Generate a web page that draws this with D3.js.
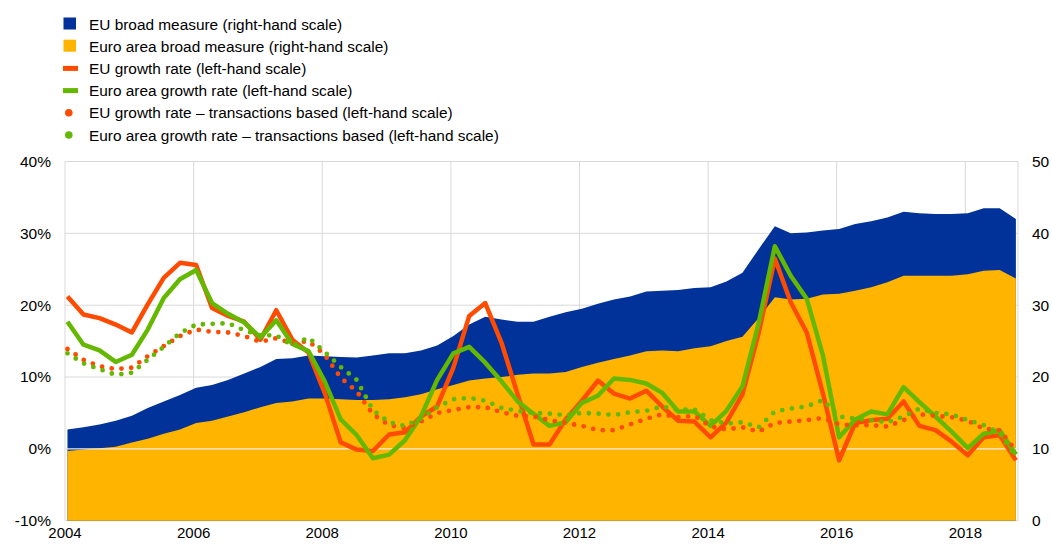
<!DOCTYPE html>
<html>
<head>
<meta charset="utf-8">
<script src="https://cdn.jsdelivr.net/npm/d3@7/dist/d3.min.js"></script>
<style>
  html, body { margin: 0; padding: 0; background: #ffffff; }
  svg { display: block; font-family: "Liberation Sans", Arial, sans-serif; }
</style>
</head>
<body>
<svg id="chart" width="1052" height="547"></svg>
<script>
// Quarterly observations, 2004 Q1 – 2018 Q4
const startYear = 2004;
const quarterCount = 60;
const quarters = d3.range(quarterCount).map(i => ({ year: startYear + Math.floor(i / 4), q: i % 4 + 1 }));

// EUR trillions (right-hand scale)
const euBroad = [12.7, 13.0, 13.4, 13.9, 14.6, 15.7, 16.6, 17.5, 18.5, 18.9, 19.6, 20.5, 21.4, 22.5, 22.6, 23.0,
  22.9, 22.8, 22.7, 23.0, 23.3, 23.3, 23.7, 24.4, 25.7, 27.3, 28.4, 28.0, 27.7, 27.7, 28.4, 29.0,
  29.5, 30.2, 30.8, 31.2, 31.9, 32.0, 32.1, 32.4, 32.5, 33.3, 34.5, 37.8, 41.0, 40.0, 40.1, 40.4,
  40.6, 41.3, 41.7, 42.2, 43.0, 42.8, 42.7, 42.7, 42.8, 43.5, 43.5, 42.0];
const euroAreaBroad = [9.7, 9.9, 10.1, 10.3, 10.9, 11.4, 12.1, 12.7, 13.6, 13.9, 14.5, 15.1, 15.8, 16.4, 16.6, 17.0,
  17.0, 16.9, 16.8, 16.8, 16.9, 17.2, 17.6, 18.3, 18.9, 19.5, 19.8, 20.0, 20.3, 20.5, 20.5, 20.7,
  21.4, 22.0, 22.5, 23.0, 23.6, 23.7, 23.6, 24.0, 24.3, 25.0, 25.6, 28.2, 31.1, 30.8, 30.9, 31.5,
  31.6, 32.0, 32.5, 33.2, 34.1, 34.1, 34.1, 34.1, 34.3, 34.8, 34.9, 33.7];

// Annual growth rates, % (left-hand scale)
const euGrowth = [21.2, 18.7, 18.2, 17.3, 16.2, 20.1, 23.8, 25.9, 25.6, 19.6, 18.5, 17.7, 15.2, 19.3, 15.2, 13.4,
  7.8, 0.9, -0.1, -0.3, 2.0, 2.3, 4.5, 5.9, 11.3, 18.5, 20.3, 14.8, 7.6, 0.6, 0.6, 4.1,
  6.7, 9.5, 7.7, 7.0, 8.1, 5.9, 3.9, 3.8, 1.6, 3.7, 7.6, 16.1, 26.5, 20.4, 16.2, 7.7,
  -1.6, 3.6, 4.0, 4.2, 6.6, 3.2, 2.6, 1.0, -0.9, 1.6, 1.9, -1.6];
const euroAreaGrowth = [17.7, 14.5, 13.7, 12.1, 13.1, 16.6, 21.0, 23.6, 24.9, 20.3, 18.8, 17.6, 15.5, 17.9, 14.6, 13.6,
  9.4, 4.1, 1.9, -1.3, -0.8, 1.2, 4.5, 9.6, 13.3, 14.2, 12.0, 9.4, 6.6, 4.9, 3.2, 3.7,
  6.4, 7.4, 9.8, 9.6, 9.1, 7.8, 5.2, 5.2, 3.2, 5.3, 8.7, 17.5, 28.2, 24.1, 20.9, 13.0,
  1.6, 4.1, 5.2, 4.8, 8.6, 6.5, 4.5, 2.4, 0.1, 2.1, 2.6, -0.8];
const euGrowthTx = [13.9, 12.4, 11.5, 11.1, 11.3, 12.9, 14.3, 15.7, 16.6, 16.3, 16.2, 15.7, 14.9, 15.4, 14.7, 15.0,
  13.1, 9.9, 8.0, 4.8, 3.3, 2.9, 3.8, 5.0, 5.4, 5.8, 5.8, 5.1, 4.6, 4.5, 4.0, 3.6,
  3.2, 2.6, 2.6, 3.4, 4.2, 4.8, 4.4, 4.6, 3.1, 2.7, 3.0, 2.4, 3.6, 3.8, 4.0, 4.3,
  3.4, 3.3, 3.3, 3.1, 4.0, 4.8, 4.6, 4.4, 3.9, 2.8, 2.6, -0.2];
const euroAreaGrowthTx = [13.3, 11.9, 11.1, 10.3, 10.6, 12.4, 14.2, 16.1, 17.3, 17.4, 17.5, 16.5, 15.8, 15.8, 14.4, 15.5,
  13.5, 11.4, 9.6, 5.4, 3.7, 3.2, 4.2, 5.8, 6.9, 7.1, 6.7, 5.7, 5.3, 5.0, 4.9, 4.7,
  5.0, 4.9, 4.7, 5.1, 5.3, 5.9, 5.4, 5.5, 4.0, 3.5, 3.7, 3.0, 5.2, 5.6, 5.9, 6.8,
  4.5, 4.2, 4.0, 3.7, 4.5, 5.6, 5.0, 4.8, 4.0, 3.3, 2.2, -1.1];

// Axis ticks
const yearTicks = [2004, 2006, 2008, 2010, 2012, 2014, 2016, 2018];
const leftTicks = [-10, 0, 10, 20, 30, 40];
const rightTicks = [0, 10, 20, 30, 40, 50];

const legendItems = [
  { label: "EU broad measure (right-hand scale)", kind: "square", color: "#003299" },
  { label: "Euro area broad measure (right-hand scale)", kind: "square", color: "#FFB400" },
  { label: "EU growth rate (left-hand scale)", kind: "line", color: "#FF4B00" },
  { label: "Euro area growth rate (left-hand scale)", kind: "line", color: "#65B800" },
  { label: "EU growth rate \u2013 transactions based (left-hand scale)", kind: "dot", color: "#FF4B00" },
  { label: "Euro area growth rate \u2013 transactions based (left-hand scale)", kind: "dot", color: "#65B800" }
];

const svg = d3.select("#chart");
const plot = { left: 65, right: 1018, top: 161.5, bottom: 520.7 };

// observations are dated mid-month of each quarter's first month
const dateOf = i => new Date(quarters[i].year, (quarters[i].q - 1) * 3, 15);

const x = d3.scaleTime()
  .domain([new Date(2004, 0, 1), new Date(2018, 9, 27)])
  .range([plot.left, plot.right]);
const yL = d3.scaleLinear().domain([-10, 40]).range([plot.bottom, plot.top]);
const yR = d3.scaleLinear().domain([0, 50]).range([plot.bottom, plot.top]);

const gridColor = "#d9d9d9";

// gridlines
const grid = svg.append("g");
grid.selectAll("line.h").data(leftTicks).join("line")
  .attr("x1", plot.left).attr("x2", plot.right)
  .attr("y1", d => yL(d)).attr("y2", d => yL(d))
  .attr("stroke", gridColor).attr("stroke-width", 1);
grid.selectAll("line.v").data(yearTicks).join("line")
  .attr("x1", d => x(new Date(d, 0, 1))).attr("x2", d => x(new Date(d, 0, 1)))
  .attr("y1", plot.top).attr("y2", plot.bottom)
  .attr("stroke", gridColor).attr("stroke-width", 1);
grid.append("line")
  .attr("x1", plot.right).attr("x2", plot.right)
  .attr("y1", plot.top).attr("y2", plot.bottom)
  .attr("stroke", gridColor).attr("stroke-width", 1);

// stock areas (right-hand scale)
const area = vals => d3.area()
  .x((d, i) => x(dateOf(i)))
  .y0(yR(0))
  .y1(d => yR(d))(vals);

svg.append("path").attr("d", area(euBroad)).attr("fill", "#003299");
svg.append("path").attr("d", area(euroAreaBroad)).attr("fill", "#FFB400");

// zero line of the left-hand scale
svg.append("line")
  .attr("x1", plot.left).attr("x2", plot.right)
  .attr("y1", yL(0)).attr("y2", yL(0))
  .attr("stroke", "#ececec").attr("stroke-width", 1.2);

// growth rate lines (left-hand scale)
const line = d3.line().x((d, i) => x(dateOf(i))).y(d => yL(d));

svg.append("path").attr("d", line(euGrowth))
  .attr("fill", "none").attr("stroke", "#FF4B00").attr("stroke-width", 4.5)
  .attr("stroke-linejoin", "round");
svg.append("path").attr("d", line(euroAreaGrowth))
  .attr("fill", "none").attr("stroke", "#65B800").attr("stroke-width", 4.5)
  .attr("stroke-linejoin", "round");

const dotted = (vals, color) => svg.append("path").attr("d", line(vals))
  .attr("fill", "none").attr("stroke", color).attr("stroke-width", 4.8)
  .attr("stroke-linecap", "round").attr("stroke-dasharray", "0,9.8");

dotted(euGrowthTx, "#FF4B00");
dotted(euroAreaGrowthTx, "#65B800");

// axes
const axisG = svg.append("g").attr("fill", "#000");

axisG.selectAll("text.yl").data(leftTicks).join("text")
  .attr("font-size", 15.5)
  .attr("x", 51).attr("y", d => yL(d)).attr("dy", "0.35em")
  .attr("text-anchor", "end").text(d => d + "%");

axisG.selectAll("text.yr").data(rightTicks).join("text")
  .attr("font-size", 15.5)
  .attr("x", 1032).attr("y", d => yR(d)).attr("dy", "0.35em")
  .attr("text-anchor", "start").text(d => d);

axisG.selectAll("text.x").data(yearTicks).join("text")
  .attr("font-size", 15)
  .attr("x", d => x(new Date(d, 0, 1))).attr("y", 538)
  .attr("text-anchor", "middle").text(d => d);

// legend
const legend = svg.append("g").attr("font-size", 15.4);
const rowY = i => 24 + i * 22.2;
legendItems.forEach((item, i) => {
  const cy = rowY(i);
  if (item.kind === "square") {
    legend.append("rect").attr("x", 63.5).attr("y", cy - 6.5).attr("width", 12.5).attr("height", 12)
      .attr("fill", item.color);
  } else if (item.kind === "line") {
    legend.append("rect").attr("x", 63).attr("y", cy - 2.5).attr("width", 15).attr("height", 5)
      .attr("fill", item.color);
  } else {
    legend.append("circle").attr("cx", 68.8).attr("cy", cy).attr("r", 3.8)
      .attr("fill", item.color);
  }
  legend.append("text").attr("x", 89).attr("y", cy).attr("dy", "0.36em")
    .attr("fill", "#000").text(item.label);
});
</script>
</body>
</html>
